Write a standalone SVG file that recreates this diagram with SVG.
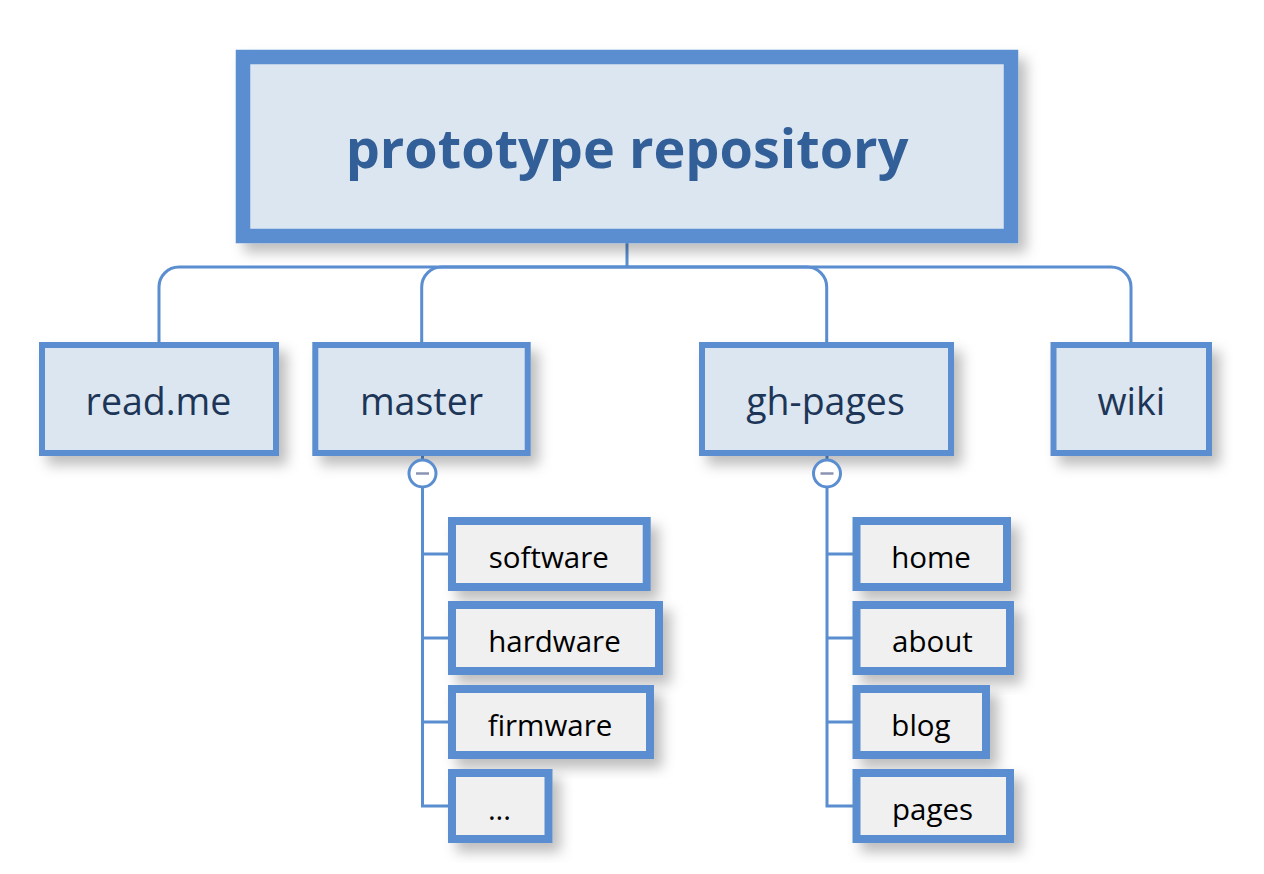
<svg xmlns="http://www.w3.org/2000/svg" width="1264" height="874" viewBox="0 0 1264 874">
<defs>
<filter id="sh" x="-15%" y="-15%" width="140%" height="150%">
<feDropShadow dx="8" dy="9" stdDeviation="6.5" flood-color="#000" flood-opacity="0.26"/>
</filter>
<style>
.b0{fill:#dce6f1;stroke:#5a8ed0;stroke-width:14.5;filter:url(#sh)}
.b1{fill:#dce6f1;stroke:#5a8ed0;stroke-width:6;filter:url(#sh)}
.b2{fill:#f0f0f0;stroke:#5a8ed0;stroke-width:8;filter:url(#sh)}
.t0{font-family:"Open Sans","Liberation Sans",sans-serif;font-weight:bold;font-size:54px;fill:#335f98;text-anchor:middle}
.t1{font-family:"Open Sans","Liberation Sans",sans-serif;font-size:37.5px;fill:#1d3657;text-anchor:middle}
.t2{font-family:"Open Sans","Liberation Sans",sans-serif;font-size:29.5px;fill:#000;text-anchor:middle}
.c{fill:none;stroke:#5a8ed0;stroke-width:3}
.tog{fill:#fff;stroke:#5a8ed0;stroke-width:3}
.minus{stroke:#8a93b3;stroke-width:2.5}
</style>
</defs>
<rect width="1264" height="874" fill="#fff"/>
<g id="connectors">
<path class="c" d="M627 243 V267"/>
<path class="c" d="M627 267 H179 A20 20 0 0 0 159 287 V345"/>
<path class="c" d="M627 267 H441.7 A20 20 0 0 0 421.7 287 V345"/>
<path class="c" d="M627 267 H806.7 A20 20 0 0 1 826.7 287 V345"/>
<path class="c" d="M627 267 H1111 A20 20 0 0 1 1131 287 V345"/>
<path class="c" d="M422.5 456 V461 M422.5 487 V806 H452 M422.5 554 H452 M422.5 638 H452 M422.5 722 H452"/>
<path class="c" d="M827 456 V461 M827 487 V806 H856 M827 554 H856 M827 638 H856 M827 722 H856"/>
</g>
<g id="root">
<rect class="b0" x="243" y="57" width="768" height="179"/>
<text class="t0" x="627" y="168">prototype repository</text>
</g>
<g id="readme">
<rect class="b1" x="42" y="345" width="234" height="108"/>
<text class="t1" x="158.5" y="415">read.me</text>
</g>
<g id="master">
<rect class="b1" x="315.3" y="345" width="212.4" height="108"/>
<text class="t1" x="421.5" y="415">master</text>
</g>
<g id="master-toggle">
<circle class="tog" cx="422.5" cy="473.5" r="13.5"/>
<line class="minus" x1="416" y1="473.5" x2="429" y2="473.5"/>
</g>
<g id="gh-pages">
<rect class="b1" x="702" y="345" width="249" height="108"/>
<text class="t1" x="825.5" y="415">gh-pages</text>
</g>
<g id="gh-pages-toggle">
<circle class="tog" cx="827" cy="473.5" r="13.5"/>
<line class="minus" x1="820.5" y1="473.5" x2="833.5" y2="473.5"/>
</g>
<g id="wiki">
<rect class="b1" x="1053.5" y="345" width="155.5" height="108"/>
<text class="t1" x="1131.3" y="415">wiki</text>
</g>
<g id="software">
<rect class="b2" x="452" y="521" width="194.7" height="66"/>
<text class="t2" x="548.8" y="567.7">software</text>
</g>
<g id="hardware">
<rect class="b2" x="452" y="605" width="207" height="66"/>
<text class="t2" x="554.5" y="651.7">hardware</text>
</g>
<g id="firmware">
<rect class="b2" x="452" y="689" width="198" height="66"/>
<text class="t2" x="550" y="735.7">firmware</text>
</g>
<g id="more">
<rect class="b2" x="452" y="773" width="96.5" height="66"/>
<text class="t2" x="499.5" y="819.7">...</text>
</g>
<g id="home">
<rect class="b2" x="856.5" y="521" width="150.5" height="66"/>
<text class="t2" x="931" y="567.7">home</text>
</g>
<g id="about">
<rect class="b2" x="856.5" y="605" width="153.5" height="66"/>
<text class="t2" x="932.5" y="651.7">about</text>
</g>
<g id="blog">
<rect class="b2" x="856.5" y="689" width="129.5" height="66"/>
<text class="t2" x="921" y="735.7">blog</text>
</g>
<g id="pages">
<rect class="b2" x="856.5" y="773" width="153.5" height="66"/>
<text class="t2" x="932.5" y="819.7">pages</text>
</g>
</svg>
